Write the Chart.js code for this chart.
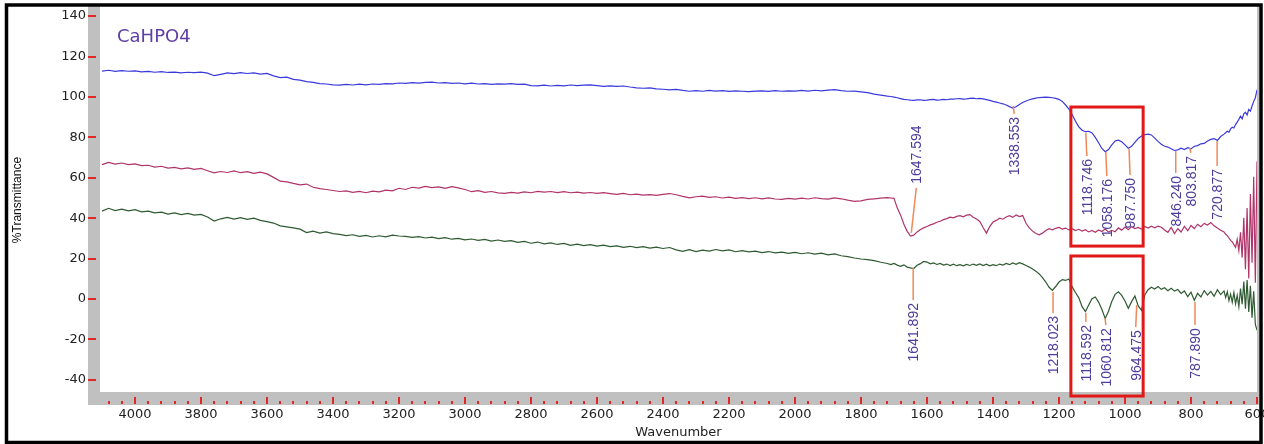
<!DOCTYPE html>
<html>
<head>
<meta charset="utf-8">
<title>CaHPO4 FTIR</title>
<script src="https://cdn.jsdelivr.net/npm/chart.js@4.4.1/dist/chart.umd.min.js"></script>
<style>
  html, body { margin: 0; padding: 0; background: #fff; }
  #wrap { width: 1264px; height: 444px; position: relative; }
</style>
</head>
<body>
<div id="wrap"><canvas id="ftirChart"></canvas></div>
<script>
// --- 1. DATA ---
const wavenumbers = [
  4100, 4080, 4060, 4040, 4020, 4000, 3980, 3960, 3940, 3920,
  3900, 3880, 3860, 3840, 3820, 3800, 3780, 3760, 3740, 3720,
  3700, 3680, 3660, 3640, 3620, 3600, 3580, 3560, 3540, 3520,
  3500, 3480, 3460, 3440, 3420, 3400, 3380, 3360, 3340, 3320,
  3300, 3280, 3260, 3240, 3220, 3200, 3180, 3160, 3140, 3120,
  3100, 3080, 3060, 3040, 3020, 3000, 2980, 2960, 2940, 2920,
  2900, 2880, 2860, 2840, 2820, 2800, 2780, 2760, 2740, 2720,
  2700, 2680, 2660, 2640, 2620, 2600, 2580, 2560, 2540, 2520,
  2500, 2480, 2460, 2440, 2420, 2400, 2380, 2360, 2340, 2320,
  2300, 2280, 2260, 2240, 2220, 2200, 2180, 2160, 2140, 2120,
  2100, 2080, 2060, 2040, 2020, 2000, 1980, 1960, 1940, 1920,
  1900, 1880, 1860, 1840, 1820, 1800, 1780, 1760, 1740, 1720,
  1710, 1700, 1690, 1680, 1670, 1660, 1650, 1640, 1630, 1620,
  1610, 1600, 1590, 1580, 1570, 1560, 1550, 1540, 1530, 1520,
  1510, 1500, 1490, 1480, 1470, 1460, 1450, 1440, 1430, 1420,
  1410, 1400, 1390, 1380, 1370, 1360, 1350, 1340, 1330, 1320,
  1310, 1300, 1290, 1280, 1270, 1260, 1250, 1240, 1230, 1220,
  1210, 1200, 1190, 1180, 1170, 1160, 1150, 1140, 1130, 1120,
  1110, 1100, 1090, 1080, 1070, 1060, 1050, 1040, 1030, 1020,
  1010, 1000, 990, 980, 970, 960, 950, 940, 930, 920,
  910, 900, 890, 880, 870, 860, 850, 840, 830, 820,
  810, 800, 790, 780, 770, 760, 750, 740, 730, 720,
  710, 700,
  695, 690, 685, 680, 675, 670, 665, 660, 655, 650,
  645, 640, 635, 630, 625, 620, 615, 610, 605, 600
];

// top trace (blue)
const blueT = [
  112.8, 113.2, 112.6, 113.0, 112.7, 112.9, 112.4, 112.6, 112.2, 112.5,
  112.1, 112.3, 111.9, 112.2, 112.0, 112.3, 111.8, 110.5, 111.2, 111.9,
  111.5, 112.0, 111.6, 111.9, 111.3, 111.6, 110.4, 109.6, 109.8, 108.7,
  108.3, 107.6, 107.2, 106.6, 106.4, 106.0, 105.8, 106.2, 105.9, 106.3,
  106.0, 106.4, 106.2, 106.6, 106.5, 106.9, 106.7, 107.1, 106.8, 107.2,
  107.3, 106.9, 107.1, 106.7, 106.9, 106.5, 106.8, 106.4, 106.6, 106.2,
  106.5, 106.3, 106.6, 106.2, 106.3, 105.6, 105.5, 105.8, 105.4, 105.7,
  105.5, 105.9, 105.6, 105.8, 106.0, 105.6, 105.2, 105.5, 105.2, 105.4,
  104.9, 104.5, 104.3, 104.5, 104.0, 103.8, 103.5, 103.7, 103.2, 102.8,
  103.1, 102.8, 103.2, 102.9, 103.1, 102.7, 103.0, 102.8, 102.6, 102.9,
  103.0, 102.7, 103.1, 102.8, 103.0, 102.9, 103.2, 102.9, 103.3, 103.0,
  103.4, 103.6, 103.1, 102.8, 102.9, 102.5, 102.1, 101.4, 100.9, 100.4,
  100.2, 99.9, 99.6, 99.2, 98.8, 98.6, 98.4, 98.3, 98.5, 98.6,
  98.3, 98.4, 98.7, 98.8, 98.4, 98.5, 98.8, 98.6, 98.9, 98.9,
  99.1, 99.2, 98.9, 99.0, 99.3, 99.4, 99.1, 99.3, 99.0, 98.7,
  98.3, 97.8, 97.4, 97.0, 96.6, 96.0, 95.2, 94.5, 95.1, 96.3,
  97.2, 98.0, 98.6, 99.0, 99.4, 99.7, 99.8, 99.9, 99.8, 99.6,
  99.3, 98.8, 97.8, 96.0, 94.0, 91.2, 88.0, 85.2, 83.5, 82.8,
  83.0, 82.2, 80.0, 77.3, 74.5, 72.9, 74.0, 76.3, 78.2, 78.6,
  77.8, 76.3, 74.6, 75.6, 77.5, 79.4, 80.6, 81.3, 81.6, 81.2,
  79.6, 78.0, 76.6, 75.6, 75.2, 74.4, 73.5, 73.8, 74.6, 74.0,
  74.9, 74.3, 75.6, 75.9, 76.8, 77.0, 78.2, 79.0, 79.4, 78.5,
  80.4, 81.6,
  82.3, 83.0, 82.6, 84.2, 85.0, 84.6, 86.3, 87.5, 88.9, 90.5,
  89.2, 91.6, 92.4, 91.0, 93.8, 93.0, 95.5, 97.8, 99.6, 103.5
];

// middle trace (maroon)
const maroonT = [
  66.5, 67.6, 66.8, 67.3, 66.5, 66.9, 66.0, 66.2, 65.3, 65.7,
  64.8, 65.1, 64.4, 64.9, 64.2, 64.6, 63.5, 62.4, 63.1, 62.6,
  63.4, 62.5, 63.0, 62.2, 62.8, 61.9, 60.2, 58.3, 58.0, 57.2,
  56.5, 56.9, 55.3, 54.6, 54.2, 53.7, 53.2, 53.5, 52.8, 53.3,
  52.6, 53.4, 53.0, 53.9, 53.5, 54.8, 54.2, 55.3, 54.9, 55.7,
  55.1, 55.5, 54.8, 55.6, 55.0, 54.2, 53.1, 53.6, 52.8, 53.2,
  52.5, 52.3, 52.8, 52.4, 53.0, 52.6, 53.3, 52.9, 53.2, 52.7,
  53.1, 52.6, 52.9, 52.4, 52.7, 52.3, 52.6, 52.2, 51.8, 52.3,
  51.6, 51.9, 51.4, 51.7, 51.3, 51.8, 52.2, 51.6, 50.8, 50.1,
  50.6, 50.9, 50.3, 50.6, 50.0, 50.4, 49.8, 50.2, 49.7, 50.1,
  49.6, 50.0, 49.5, 49.3, 49.8, 49.4, 49.9, 49.5, 50.1, 49.7,
  49.4, 50.0, 49.6, 48.9, 48.3, 48.6, 49.3, 49.6, 49.9, 50.2,
  50.0, 49.8, 45.0, 41.5, 37.0, 33.5, 31.2, 31.6, 33.2, 34.4,
  35.2, 35.9, 36.7, 37.2, 38.0, 38.5, 39.3, 39.8, 40.5, 40.2,
  40.9, 41.3, 40.7, 41.5, 41.8, 40.5, 39.6, 38.4, 35.4, 32.6,
  35.8, 38.1, 38.9, 40.0, 39.5, 40.6, 41.2, 40.4, 41.6, 40.8,
  41.3, 37.5, 35.2, 33.6, 32.4, 31.8, 32.6, 33.9, 34.8, 34.2,
  35.0, 35.4, 34.6, 35.1, 34.2, 34.8, 33.9, 34.5, 33.6, 34.3,
  33.2, 33.9, 33.0, 34.2, 33.4, 34.6, 33.1, 34.0, 33.3, 35.2,
  34.1, 35.6, 34.3, 35.8, 34.9, 35.4, 34.6, 35.9, 35.1, 36.0,
  35.2, 36.1, 35.5, 34.2, 33.0, 35.4, 32.4, 34.8, 33.2, 36.0,
  33.8, 36.4, 34.9, 37.0, 35.8, 37.4, 36.6, 37.8, 36.2, 35.1,
  34.0, 33.2,
  32.0, 31.4, 30.2, 29.0, 28.3, 27.0, 25.6, 29.5, 24.0, 33.0,
  20.5, 40.2, 14.8, 45.0, 10.2, 52.0, 18.0, 60.5, 8.0, 68.0
];

// bottom trace (green)
const greenT = [
  43.5, 44.9, 43.8, 44.5, 43.6, 44.2, 43.1, 43.5, 42.6, 43.0,
  42.0, 42.6, 41.8, 42.4, 41.5, 41.9, 40.6, 38.6, 39.7, 40.4,
  39.5, 40.3, 39.4, 40.0, 38.9, 38.3, 37.6, 36.2, 35.7, 35.2,
  34.6, 32.9, 33.6, 32.6, 33.2, 32.4, 32.0, 31.4, 31.8, 31.0,
  31.5, 30.7, 31.3, 30.8, 31.6, 31.2, 31.0, 30.5, 30.9, 30.2,
  30.6, 29.9, 30.4, 29.6, 30.0, 29.3, 29.7, 29.0, 29.5, 28.7,
  29.2, 28.5, 28.9, 28.0, 28.5, 27.6, 28.2, 27.3, 27.8, 27.0,
  27.5, 26.6, 27.2, 26.4, 26.9, 26.2, 26.7, 25.9, 26.3, 25.6,
  26.1, 25.4, 25.9, 25.2, 25.7, 25.0, 25.5, 24.3, 23.6, 24.4,
  23.5, 24.2, 23.7, 24.5, 23.8, 24.3, 23.4, 23.9, 23.3, 23.7,
  23.0, 23.5, 22.8, 23.2, 22.6, 23.1, 22.4, 22.9, 22.2, 22.7,
  21.9, 22.3, 21.4, 21.0, 20.3, 19.8, 19.5, 19.0, 18.2, 17.6,
  17.0, 17.6, 16.8, 16.2, 16.9, 15.8, 15.4, 15.1, 16.7, 17.5,
  18.6, 18.3, 17.4, 17.9, 17.1, 17.6, 16.8, 17.3, 16.6, 17.2,
  16.5, 17.0, 16.4, 17.1, 16.6, 17.3, 16.7, 17.4, 16.6, 17.2,
  16.4, 17.0, 16.5, 17.3, 16.8, 17.6, 17.0, 17.9, 17.2, 18.0,
  17.4, 16.6, 15.8, 14.9, 13.8, 12.4, 10.6, 8.4, 5.8, 4.3,
  6.2, 8.4, 9.6, 9.2, 9.9, 6.0, 3.2, 0.6, -3.8, -6.2,
  -3.0, 0.2, 1.0, -1.5, -5.2, -9.6, -6.0, -1.2, 2.3, 3.6,
  1.8, -1.0, -4.6, -1.3, 1.5, -3.4, -5.6, 2.0, 4.6, 5.8,
  5.0, 6.2, 4.8, 5.6, 4.1, 5.3, 3.9, 4.7, 2.8, 4.0,
  1.2, 3.4, -0.6, 2.8, 1.0, 4.2, 2.0, 3.8, 1.4, 4.6,
  2.2, 4.0,
  0.8, 3.6, -0.8, 2.4, -1.6, 3.2, -2.4, 1.8, -3.8, 5.2,
  -2.6, 8.6, -4.8, 9.4, -6.4, 6.6, -9.2, 3.8, -12.6, -15.4
];

const xTicks = [4000, 3800, 3600, 3400, 3200, 3000, 2800, 2600, 2400, 2200, 2000, 1800, 1600, 1400, 1200, 1000, 800, 600];
const yTicks = [140, 120, 100, 80, 60, 40, 20, 0, -20, -40];

const sampleName = 'CaHPO4';

// Peak picks: [label, %T where the leader starts, %T where it ends, direction, text shift px]
const peakLeaders = [
  ['1647.594', 32.7, 55.0, 'up', 5],
  ['1338.553', 95.5, 91.6, 'down', 1],
  ['1118.746', 82.2, 70.8, 'down', 1],
  ['1058.176', 72.8, 60.9, 'down', 1],
  ['987.750', 74.3, 61.4, 'down', 1],
  ['846.240', 73.3, 62.4, 'down', 0],
  ['803.817', 74.8, 72.3, 'down', 1],
  ['720.877', 78.2, 65.8, 'down', 0],
  ['1641.892', 15.3, -0.5, 'down', 0],
  ['1218.023', 3.5, -6.9, 'down', 0],
  ['1118.592', -6.9, -11.4, 'down', 0],
  ['1060.812', -9.4, -12.9, 'down', 1],
  ['964.475', -3.0, -13.9, 'down', -1],
  ['787.890', -1.5, -12.9, 'down', 0]
];

// Highlight boxes: [from cm-1, to cm-1, top %T, bottom %T]
const highlightBoxes = [
  [1164, 945, 95.0, 26.2],
  [1164, 945, 21.3, -48.0]
];

const toPoints = (vals) => wavenumbers.map((w, i) => ({ x: w, y: vals[i] }));

// --- 2. PLUGIN: spectrometer-style frame, peak labels, boxes ---
const ftirDecor = {
  id: 'ftirDecor',
  beforeDraw(chart) {
    const { ctx, chartArea: a, scales: { x, y } } = chart;
    ctx.save();
    ctx.fillStyle = '#ffffff';
    ctx.fillRect(0, 0, chart.width, chart.height);

    // gray axis strips
    ctx.fillStyle = '#c0c0c0';
    ctx.fillRect(a.left - 12, 6, 12, a.bottom + 13 - 6);
    ctx.fillRect(a.left - 12, a.bottom, 1259 - (a.left - 12), 13);
    ctx.fillRect(a.right, 6, Math.max(2, 1259 - a.right), a.bottom + 13 - 6);

    // red tick marks
    ctx.strokeStyle = '#e02828';
    ctx.lineWidth = 2;
    ctx.beginPath();
    y.ticks.forEach(t => {
      const py = Math.round(y.getPixelForValue(t.value));
      ctx.moveTo(a.left - 12, py);
      ctx.lineTo(a.left - 4, py);
    });
    x.ticks.forEach(t => {
      const px = Math.round(x.getPixelForValue(t.value));
      ctx.moveTo(px, a.bottom + 5);
      ctx.lineTo(px, a.bottom + 12);
    });
    for (let w = 640; w < x.max; w += 40) {
      if (w % 200 === 0) continue;
      const px = Math.round(x.getPixelForValue(w));
      ctx.moveTo(px, a.bottom + 9);
      ctx.lineTo(px, a.bottom + 12);
    }
    ctx.stroke();
    ctx.restore();
  },
  afterDatasetsDraw(chart) {
    const { ctx, scales: { x, y } } = chart;
    ctx.save();

    // red boxes around the phosphate bands
    ctx.strokeStyle = '#e01818';
    ctx.lineWidth = 3;
    highlightBoxes.forEach(([w1, w2, t, b]) => {
      const x1 = x.getPixelForValue(w1), x2 = x.getPixelForValue(w2);
      const y1 = y.getPixelForValue(t), y2 = y.getPixelForValue(b);
      ctx.strokeRect(x1, y1, x2 - x1, y2 - y1);
    });

    // peak leaders + labels
    ctx.font = '14px "Liberation Sans", Arial, sans-serif';
    ctx.textBaseline = 'middle';
    peakLeaders.forEach(([label, v0, v1, dir, dx]) => {
      const px = x.getPixelForValue(parseFloat(label));
      const p0 = y.getPixelForValue(v0), p1 = y.getPixelForValue(v1);
      ctx.strokeStyle = '#f0895a';
      ctx.lineWidth = 1.5;
      ctx.beginPath();
      ctx.moveTo(px, p0);
      ctx.lineTo(px + dx, p1);
      ctx.stroke();

      ctx.save();
      ctx.fillStyle = '#4c3c9c';
      const ty = dir === 'up' ? p1 - 4 : p1 + 3;
      ctx.translate(px + dx + 1, ty);
      ctx.rotate(-Math.PI / 2);
      ctx.textAlign = dir === 'up' ? 'left' : 'right';
      ctx.fillText(label, 0, 0);
      ctx.restore();
    });

    // sample name
    ctx.fillStyle = '#5f40a4';
    ctx.font = '18px "DejaVu Sans", sans-serif';
    ctx.textAlign = 'left';
    ctx.textBaseline = 'middle';
    ctx.fillText(sampleName, 117, 37);
    ctx.restore();
  },
  afterDraw(chart) {
    const { ctx } = chart;
    ctx.save();
    ctx.strokeStyle = '#000000';
    ctx.lineWidth = 3.5;
    ctx.strokeRect(6.5, 5, 1254.5, 437.5);
    ctx.restore();
  }
};

// --- 3. CHART ---
Chart.defaults.font.family = '"DejaVu Sans", sans-serif';
Chart.defaults.color = '#222';

new Chart(document.getElementById('ftirChart'), {
  type: 'line',
  data: {
    datasets: [
      { label: 'blue', data: toPoints(blueT), borderColor: '#3a3adc', borderWidth: 1.2 },
      { label: 'maroon', data: toPoints(maroonT), borderColor: '#b0346a', borderWidth: 1.2 },
      { label: 'green', data: toPoints(greenT), borderColor: '#2f5a32', borderWidth: 1.2 }
    ]
  },
  options: {
    responsive: true,
    maintainAspectRatio: false,
    animation: false,
    devicePixelRatio: 1,
    parsing: false,
    elements: { point: { radius: 0 }, line: { tension: 0 } },
    layout: { padding: { left: 0, right: 7, top: 8, bottom: 0 } },
    plugins: { legend: { display: false }, tooltip: { enabled: false } },
    scales: {
      x: {
        type: 'linear',
        reverse: true,
        min: 600,
        max: 4106,
        afterFit: (s) => { s.height = 52; s.paddingLeft = 0; s.paddingRight = 0; },
        afterBuildTicks: (s) => { s.ticks = xTicks.map(v => ({ value: v })); },
        grid: { display: false, drawTicks: false },
        border: { display: false },
        ticks: { autoSkip: false, maxRotation: 0, padding: 15, font: { size: 13 }, callback: (v) => String(v) },
        title: { display: true, text: 'Wavenumber', font: { size: 13 }, padding: { top: 0, bottom: 4 } }
      },
      y: {
        min: -46,
        max: 144,
        afterFit: (s) => { s.width = 100; s.paddingTop = 0; s.paddingBottom = 0; },
        afterBuildTicks: (s) => { s.ticks = yTicks.map(v => ({ value: v })); },
        grid: { display: false, drawTicks: false },
        border: { display: false },
        ticks: { padding: 14, font: { size: 13 }, callback: (v) => String(v) },
        title: {
          display: true, text: '%Transmittance', color: '#111',
          font: { family: '"Liberation Sans", Arial, sans-serif', size: 12 },
          padding: { top: 10, bottom: 0 }
        }
      }
    }
  },
  plugins: [ftirDecor]
});
</script>
</body>
</html>
